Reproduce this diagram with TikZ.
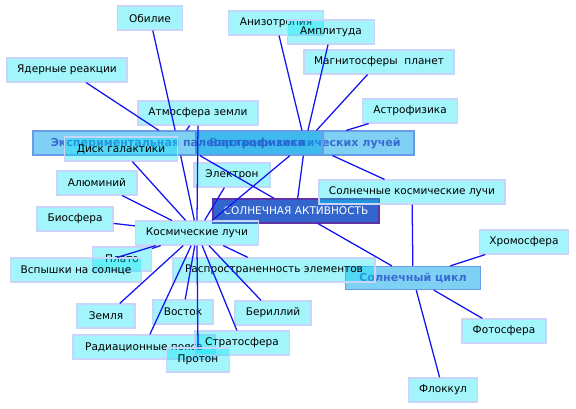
\documentclass[tikz,border=0pt]{standalone}
\usepackage{fontspec}
\setmainfont{DejaVu Sans}
\definecolor{leaffill}{RGB}{0,230,245}
\definecolor{leafdraw}{RGB}{200,212,250}
\definecolor{catfill}{RGB}{0,165,235}
\definecolor{catdraw}{RGB}{105,155,232}
\definecolor{cattext}{RGB}{45,90,205}
\definecolor{corefill}{RGB}{51,102,204}
\definecolor{coredraw}{RGB}{95,50,165}
\definecolor{edgecol}{RGB}{20,20,240}
\begin{document}
\begin{tikzpicture}[x=0.75pt,y=-0.75pt,
  base/.style={rectangle, inner sep=0pt, minimum height=18pt, line width=0.9pt,
    font=\fontsize{7.9}{9}\selectfont},
  leaf/.style={base, fill=leaffill, fill opacity=0.37, draw=leafdraw, draw opacity=1, text opacity=1, text=black},
  catnode/.style={base, fill=catfill, fill opacity=0.5, draw=catdraw, draw opacity=1, text opacity=0.85, text=cattext, font=\fontsize{8.3}{9}\selectfont\bfseries},
  corenode/.style={base, fill=corefill, draw=coredraw, text=white},
  bw/.style={minimum width=#1*0.75pt},
  edge/.style={draw=edgecol, line width=0.95pt}]
\useasboundingbox[fill=white] (0,0) rectangle (576,409);

% core and category nodes
\node[corenode, bw=166] (core) at (296,211) {СОЛНЕЧНАЯ АКТИВНОСТЬ};
\node[catnode, bw=218] (var) at (305,143) {Вариации космических лучей};
\node[catnode, bw=290] (eksp) at (178,143) {Экспериментальная палеоастрофизика};
\node[catnode, bw=135, minimum height=17.25pt] (scycle) at (413,278) {Солнечный цикл};

% leaves
\node[leaf, bw=65] (obilie) at (150,18) {Обилие};
\node[leaf, bw=95] (aniz) at (276,23) {Анизотропия};
\node[leaf, bw=87] (ampl) at (331,32) {Амплитуда};
\node[leaf, bw=120] (yad) at (67,70) {Ядерные реакции};
\node[leaf, bw=150] (magn) at (379,62) {Магнитосферы\ \ планет};
\node[leaf, bw=120] (atm) at (198,113) {Атмосфера земли};
\node[leaf, bw=95] (astro) at (410,111) {Астрофизика};
\node[leaf, bw=113] (disk) at (121,149) {Диск галактики};
\node[leaf, bw=80] (alum) at (97,183) {Алюминий};
\node[leaf, bw=76] (elec) at (232,175) {Электрон};
\node[leaf, bw=186] (skl) at (412,192) {Солнечные космические лучи};
\node[leaf, bw=76] (bio) at (75,219) {Биосфера};
\node[leaf, bw=123] (kl) at (197,233) {Космические лучи};
\node[leaf, bw=89] (chrom) at (524,242) {Хромосфера};
\node[leaf, bw=59] (plato) at (122,259) {Плато};
\node[leaf, bw=131] (vsp) at (76,270) {Вспышки на солнце};
\node[leaf, bw=202] (rasp) at (274,270) {Распространенность элементов};
\node[leaf, bw=58] (zemlya) at (106,316) {Земля};
\node[leaf, bw=60] (vostok) at (183,312) {Восток};
\node[leaf, bw=76] (beril) at (273,313) {Бериллий};
\node[leaf, bw=142] (rad) at (144,347) {Радиационные пояса};
\node[leaf, bw=95] (strat) at (242,343) {Стратосфера};
\node[leaf, bw=63] (proton) at (198,360) {Протон};
\node[leaf, bw=84] (foto) at (504,331) {Фотосфера};
\node[leaf, bw=69] (flok) at (443,390) {Флоккул};

% connectors
\draw[edge] (yad) -- (eksp);
\draw[edge] (obilie) -- (eksp);
\draw[edge] (eksp) -- (kl);
\draw[edge] (atm) -- (eksp);
\draw[edge] (atm.south) -- (kl.north);
\draw[edge] (eksp) -- (core);
\draw[edge] (aniz) -- (var);
\draw[edge] (ampl) -- (var);
\draw[edge] (magn) -- (var);
\draw[edge] (astro) -- (var);
\draw[edge] (var) -- (core);
\draw[edge] (var) -- (skl);
\draw[edge] (kl) -- (var);
\draw[edge] (disk) -- (kl);
\draw[edge] (alum) -- (kl);
\draw[edge] (bio) -- (kl);
\draw[edge] (elec) -- (kl);
\draw[edge] (plato) -- (kl);
\draw[edge] (vsp) -- (kl);
\draw[edge] (rasp) -- (kl);
\draw[edge] (zemlya) -- (kl);
\draw[edge] (vostok) -- (kl);
\draw[edge] (rad) -- (kl);
\draw[edge] (proton.north) -- (kl.south);
\draw[edge] (strat) -- (kl);
\draw[edge] (beril) -- (kl);
\draw[edge] (core) -- (scycle);
\draw[edge] (skl) -- (scycle);
\draw[edge] (chrom) -- (scycle);
\draw[edge] (foto) -- (scycle);
\draw[edge] (flok) -- (scycle);
\end{tikzpicture}
\end{document}
